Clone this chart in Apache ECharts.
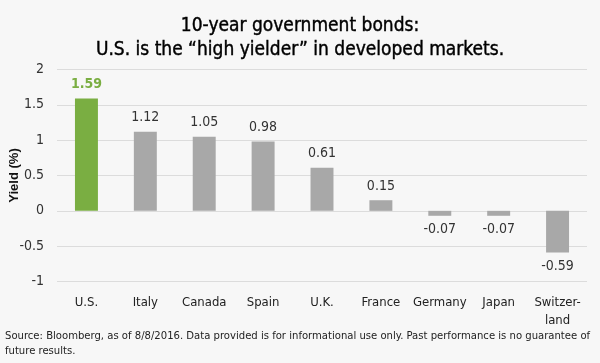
<!DOCTYPE html>
<html><head><meta charset="utf-8">
<script src="https://cdn.jsdelivr.net/npm/echarts@6/dist/echarts.min.js"></script>
<style>html,body{margin:0;padding:0;background:#f7f7f7;}#c{width:600px;height:363px;}</style>
</head><body><div id="c"></div>
<script>
const categories = ["U.S.", "Italy", "Canada", "Spain", "U.K.", "France", "Germany", "Japan", "Switzer-\nland"];
const yields = [1.59, 1.12, 1.05, 0.98, 0.61, 0.15, -0.07, -0.07, -0.59];
const yTicks = [-1, -0.5, 0, 0.5, 1, 1.5, 2];
const highlightIndex = 0;
const FONT = '"DejaVu Sans Condensed", "Liberation Sans Narrow", sans-serif';
const chart = echarts.init(document.getElementById('c'));
chart.setOption({
  backgroundColor: '#f7f7f7',
  animation: false,
  title: {
    text: '10-year government bonds:\nU.S. is the \u201chigh yielder\u201d in developed markets.',
    left: 'center', top: 9,
    textStyle: {fontFamily: FONT, fontSize: 19, fontWeight: 'normal', color: '#000', lineHeight: 24,
      textBorderColor: '#000', textBorderWidth: 0.4}
  },
  graphic: [{
    type: 'text', left: 5, top: 329,
    style: {text: 'Source: Bloomberg, as of 8/8/2016. Data provided is for informational use only. Past performance is no guarantee of\nfuture results.',
      font: '11.2px ' + FONT, fill: '#222', lineHeight: 15}
  }],
  grid: {left: 57, right: 13, top: 69.5, bottom: 81.5, outerBoundsMode: 'none', containLabel: false},
  xAxis: {
    type: 'category', data: categories,
    axisLine: {show: false}, axisTick: {show: false},
    axisLabel: {fontFamily: FONT, fontSize: 13, color: '#222', margin: 12, lineHeight: 18, interval: 0}
  },
  yAxis: {
    type: 'value', min: yTicks[0], max: yTicks[yTicks.length-1], interval: 0.5,
    name: 'Yield (%)', nameLocation: 'middle', nameGap: 36, nameMoveOverlap: false,
    nameTextStyle: {fontFamily: '"Liberation Sans", sans-serif', fontWeight: 'bold', fontSize: 13, color: '#111'},
    axisLine: {show: false}, axisTick: {show: false},
    axisLabel: {fontFamily: FONT, fontSize: 14, color: '#333', margin: 13},
    splitLine: {lineStyle: {color: '#dcdcdc', width: 1}}
  },
  series: [{
    type: 'bar', barWidth: '39%',
    data: yields.map((v, i) => ({
      value: v,
      itemStyle: {color: i === highlightIndex ? '#7aae42' : '#a8a8a8'},
      label: i === highlightIndex ? {color: '#7aae42', fontWeight: 'bold'} : {}
    })),
    label: {show: true, position: 'outside', fontFamily: FONT, fontSize: 14, color: '#333', distance: 7,
      formatter: p => p.value.toFixed(2)}
  }]
});
</script></body></html>
